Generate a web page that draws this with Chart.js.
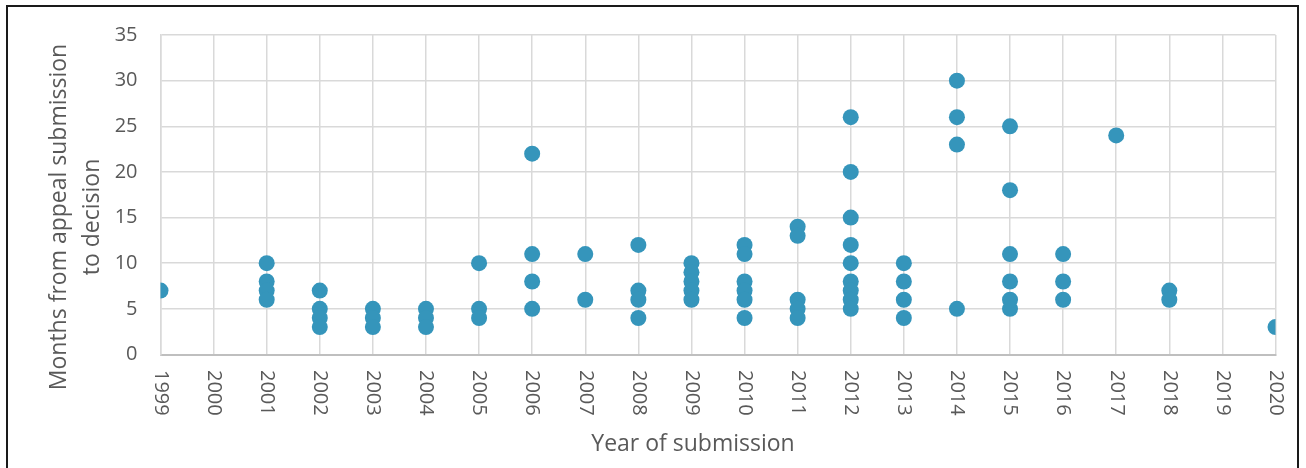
<!DOCTYPE html>
<html>
<head>
<meta charset="utf-8">
<script src="https://cdn.jsdelivr.net/npm/chart.js@4/dist/chart.umd.min.js"></script>
<style>
  html, body { margin: 0; padding: 0; background: #ffffff; }
  body { width: 1306px; height: 468px; position: relative; overflow: hidden; }
  #frame {
    position: absolute; left: 6px; top: 5px; width: 1293px; height: 480px;
    border: 2px solid #1a1a1a; box-sizing: border-box;
  }
  #wrap { position: absolute; left: 0; top: 0; width: 1306px; height: 468px; }
</style>
</head>
<body>
<div id="frame"></div>
<div id="wrap"><canvas id="chart" width="1306" height="468"></canvas></div>
<script>
// Appeals: year the appeal was submitted and months until a decision was issued
const submissionYears = [
  1999,
  2001, 2001, 2001, 2001,
  2002, 2002, 2002, 2002,
  2003, 2003, 2003,
  2004, 2004, 2004,
  2005, 2005, 2005,
  2006, 2006, 2006, 2006,
  2007, 2007,
  2008, 2008, 2008, 2008,
  2009, 2009, 2009, 2009, 2009,
  2010, 2010, 2010, 2010, 2010, 2010,
  2011, 2011, 2011, 2011, 2011,
  2012, 2012, 2012, 2012, 2012, 2012, 2012, 2012, 2012,
  2013, 2013, 2013, 2013,
  2014, 2014, 2014, 2014,
  2015, 2015, 2015, 2015, 2015, 2015,
  2016, 2016, 2016,
  2017,
  2018, 2018,
  2020
];
const monthsToDecision = [
  7,
  10, 8, 7, 6,
  7, 5, 4, 3,
  5, 4, 3,
  5, 4, 3,
  10, 5, 4,
  22, 11, 8, 5,
  11, 6,
  12, 7, 6, 4,
  10, 9, 8, 7, 6,
  12, 11, 8, 7, 6, 4,
  14, 13, 6, 5, 4,
  26, 20, 15, 12, 10, 8, 7, 6, 5,
  10, 8, 6, 4,
  30, 26, 23, 5,
  25, 18, 11, 8, 6, 5,
  11, 8, 6,
  24,
  7, 6,
  3
];
const yearTicks = [1999, 2000, 2001, 2002, 2003, 2004, 2005, 2006, 2007, 2008, 2009,
                   2010, 2011, 2012, 2013, 2014, 2015, 2016, 2017, 2018, 2019, 2020];
const monthTicks = [0, 5, 10, 15, 20, 25, 30, 35];
const xTitle = 'Year of submission';
const yTitleLines = ['Months from appeal submission', 'to decision'];

const FONT = '"Open Sans", "DejaVu Sans", sans-serif';
const TEXT = '#595959';
const GRID = '#d9d9d9';
const DOT = '#3595bb';

const points = submissionYears.map((yr, i) => ({ x: yr, y: monthsToDecision[i] }));

// Year labels run top-to-bottom under each tick, plus both axis titles
const labelsPlugin = {
  id: 'axisText',
  afterDraw(chart) {
    const { ctx, scales: { x } } = chart;
    ctx.save();
    ctx.fillStyle = TEXT;
    ctx.font = '20px ' + FONT;
    ctx.textAlign = 'left';
    ctx.textBaseline = 'middle';
    yearTicks.forEach(yr => {
      const px = x.getPixelForValue(yr);
      ctx.save();
      ctx.translate(px, 370);
      ctx.rotate(Math.PI / 2);
      ctx.fillText(String(yr), 0, 0);
      ctx.restore();
    });

    ctx.font = '23px ' + FONT;
    ctx.textAlign = 'center';
    ctx.fillText(xTitle, 693, 444);

    const lineX = [59, 92];
    yTitleLines.forEach((line, i) => {
      ctx.save();
      ctx.translate(lineX[i], 217);
      ctx.rotate(-Math.PI / 2);
      ctx.fillText(line, 0, 0);
      ctx.restore();
    });
    ctx.restore();
  }
};

new Chart(document.getElementById('chart'), {
  type: 'scatter',
  data: {
    datasets: [{
      data: points,
      backgroundColor: DOT,
      borderColor: DOT,
      borderWidth: 0,
      pointRadius: 8,
      pointHoverRadius: 8
    }]
  },
  options: {
    responsive: false,
    animation: false,
    events: [],
    layout: { padding: { left: 0, right: 30.5, top: 34.5, bottom: 0 } },
    plugins: { legend: { display: false }, tooltip: { enabled: false } },
    scales: {
      x: {
        type: 'linear',
        min: yearTicks[0],
        max: yearTicks[yearTicks.length - 1],
        afterBuildTicks(scale) { scale.ticks = yearTicks.map(v => ({ value: v })); },
        afterFit(scale) { scale.height = 113.5; },
        ticks: { display: false },
        grid: { color: GRID, lineWidth: 1.5, drawTicks: false },
        border: { color: '#bfbfbf', width: 2 }
      },
      y: {
        min: monthTicks[0],
        max: monthTicks[monthTicks.length - 1],
        afterBuildTicks(scale) { scale.ticks = monthTicks.map(v => ({ value: v })); },
        afterFit(scale) { scale.width = 160.5; },
        ticks: {
          color: TEXT,
          font: { family: FONT, size: 20 },
          padding: 23
        },
        grid: { color: GRID, lineWidth: 1.5, drawTicks: false },
        border: { color: GRID, width: 1.5 }
      }
    }
  },
  plugins: [labelsPlugin]
});
</script>
</body>
</html>
